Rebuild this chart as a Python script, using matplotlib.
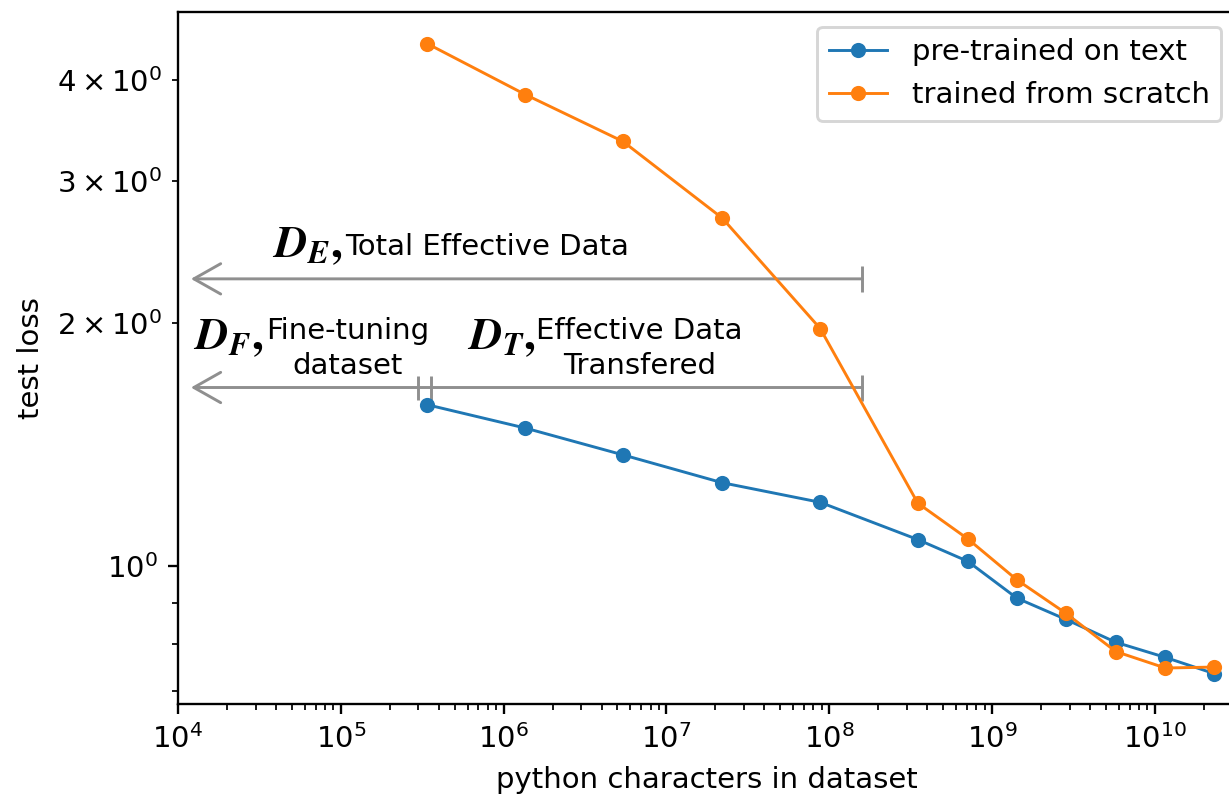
import matplotlib
matplotlib.use("Agg")
import matplotlib.pyplot as plt

# ---- data ----
chars = [3.4e5, 1.36e6, 5.4e6, 2.2e7, 8.8e7, 3.5e8, 7.1e8, 1.42e9, 2.85e9, 5.75e9, 1.16e10, 2.32e10]
pretrained_loss = [1.585, 1.483, 1.374, 1.269, 1.200, 1.079, 1.014, 0.913, 0.859, 0.805, 0.771, 0.736]
scratch_loss = [4.44, 3.84, 3.36, 2.70, 1.97, 1.197, 1.081, 0.962, 0.874, 0.784, 0.748, 0.750]
series_labels = ["pre-trained on text", "trained from scratch"]
x_label = "python characters in dataset"
y_label = "test loss"

# annotation anchors (data coordinates)
arrow_left = 1.2e4
arrow_right = 1.6e8
de_y = 2.27
df_y = 1.665
df_bars = [3.0e5, 3.6e5]

DPI = 210
fig = plt.figure(figsize=(1229 / DPI, 797 / DPI), dpi=DPI)
ax = fig.add_axes([178 / 1229, 93 / 797, 1058 / 1229, 692 / 797])

ax.plot(chars, pretrained_loss, marker="o", ms=4.2, lw=1.0, color="tab:blue", label=series_labels[0], zorder=3)
ax.plot(chars, scratch_loss, marker="o", ms=4.2, lw=1.0, color="tab:orange", label=series_labels[1], zorder=3)
ax.set_xscale("log")
ax.set_yscale("log")
ax.set_xlim(1e4, 3.15e10)
ax.set_ylim(0.675, 4.86)
ax.set_xlabel(x_label)
ax.set_ylabel(y_label)
ax.legend(loc="upper right", handletextpad=0.85)

gcol = "#8f8f8f"
aprops = dict(arrowstyle="->,head_length=0.46,head_width=0.26", color=gcol, lw=1.0,
              shrinkA=0, shrinkB=0, mutation_scale=20)
for yy in (de_y, df_y):
    ax.annotate("", xy=(arrow_left, yy), xytext=(arrow_right, yy), arrowprops=aprops, zorder=1)
    ax.plot([arrow_right], [yy], marker="|", ms=8.6, mew=1.0, color=gcol, zorder=1)
for xb in df_bars:
    ax.plot([xb], [df_y], marker="|", ms=8.0, mew=1.0, color=gcol, zorder=1)

dsize = 15.5
ax.text(3.76e4, 2.415, r"$\mathbfit{D}_{\mathbfit{E}}\mathbf{,}$", fontsize=dsize,
        math_fontfamily="stix", ha="left", va="baseline")
ax.text(1.07e5, 2.427, "Total Effective Data", ha="left", va="baseline")

ax.text(1.24e4, 1.859, r"$\mathbfit{D}_{\mathbfit{F}}\mathbf{,}$", fontsize=dsize,
        math_fontfamily="stix", ha="left", va="baseline")
ax.text(1.1e5, 1.913, "Fine-tuning", ha="center", va="baseline")
ax.text(1.1e5, 1.731, "dataset", ha="center", va="baseline")

ax.text(5.98e5, 1.859, r"$\mathbfit{D}_{\mathbfit{T}}\mathbf{,}$", fontsize=dsize,
        math_fontfamily="stix", ha="left", va="baseline")
ax.text(6.8e6, 1.913, "Effective Data", ha="center", va="baseline")
ax.text(6.8e6, 1.731, "Transfered", ha="center", va="baseline")

fig.savefig("out.png", dpi=DPI)
